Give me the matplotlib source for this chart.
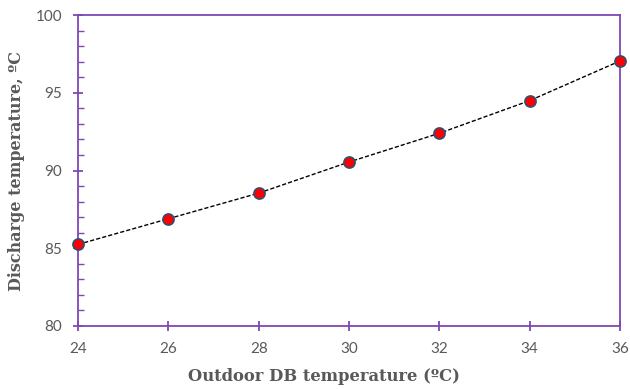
import matplotlib.pyplot as plt
from matplotlib.ticker import MultipleLocator

# data
outdoor_db = [24, 26, 28, 30, 32, 34, 36]
discharge = [85.25, 86.9, 88.55, 90.55, 92.4, 94.5, 97.05]

purple = '#7f46b5'
grey = '#595959'

fig = plt.figure(figsize=(6.3, 3.89), dpi=100)
ax = fig.add_axes([0.124, 0.162, 0.86, 0.799])

ax.plot(outdoor_db, discharge, color='black', linestyle=(0, (3, 1.5)), linewidth=1,
        marker='o', markersize=8, markerfacecolor='#ff0000',
        markeredgecolor='#2f4f75', markeredgewidth=1.2, clip_on=False, zorder=3)

ax.set_xlim(24, 36)
ax.set_ylim(80, 100)
ax.xaxis.set_major_locator(MultipleLocator(2))
ax.yaxis.set_major_locator(MultipleLocator(5))
ax.yaxis.set_minor_locator(MultipleLocator(1))

for s in ax.spines.values():
    s.set_color(purple)
    s.set_linewidth(1.3)

ax.tick_params(axis='x', which='major', direction='inout', length=6.5, width=1.3,
               color=purple, labelcolor=grey, labelsize=11, pad=8)
ax.tick_params(axis='y', which='major', direction='inout', length=7, width=1.3,
               color=purple, labelcolor=grey, labelsize=11, pad=8)
ax.tick_params(axis='y', which='minor', direction='in', length=4, width=1,
               color=purple)

for lbl in ax.get_xticklabels() + ax.get_yticklabels():
    lbl.set_family(['Lato', 'DejaVu Sans'])

ax.set_xlabel('Outdoor DB temperature (ºC)', fontsize=11.8, fontweight='bold',
              color=grey, family='DejaVu Serif')
ax.set_ylabel('Discharge temperature, ºC', fontsize=11.5, fontweight='bold',
              color=grey, family='DejaVu Serif')
ax.xaxis.set_label_coords(0.454, -0.135)
ax.yaxis.set_label_coords(-0.098, 0.5)

fig.savefig('out.png', dpi=100)
